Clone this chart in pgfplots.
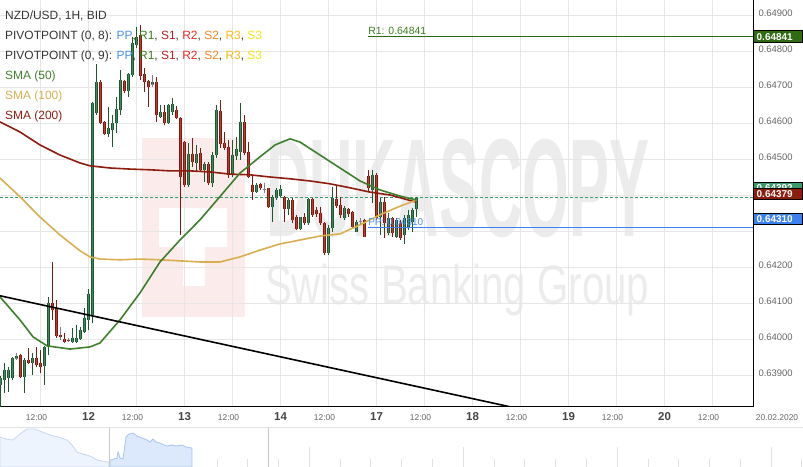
\documentclass[border=0pt]{standalone}
\usepackage{fontspec}
\setmainfont{Liberation Sans}
\usepackage{pgfplots}
\pgfplotsset{compat=1.18}
\usepackage{pgfplotstable}

\definecolor{gridc}{HTML}{E6E6E6}
\definecolor{lblgray}{HTML}{666666}
\definecolor{daygray}{HTML}{444444}
\definecolor{txt}{HTML}{333333}
\definecolor{upfill}{HTML}{3C8A5C}
\definecolor{upline}{HTML}{1E5631}
\definecolor{dnfill}{HTML}{C0392B}
\definecolor{dnline}{HTML}{7B1A12}
\definecolor{sma50}{HTML}{3E7F2D}
\definecolor{sma100}{HTML}{D8AE4E}
\definecolor{sma200}{HTML}{8C1D0E}
\definecolor{cPP}{HTML}{4A8FF0}
\definecolor{cR1}{HTML}{3C7D1E}
\definecolor{cS1}{HTML}{B5201E}
\definecolor{cR2}{HTML}{EE2A24}
\definecolor{cS2}{HTML}{F6851F}
\definecolor{cR3}{HTML}{F5B90F}
\definecolor{cS3}{HTML}{F0E414}
\definecolor{r1line}{HTML}{2F6B12}
\definecolor{ppline}{HTML}{3B82F0}
\definecolor{bidline}{HTML}{3C9A6A}
\definecolor{wmgray}{HTML}{ECECEC}
\definecolor{wmred}{HTML}{FBEBEB}
\definecolor{navfillA}{HTML}{EEF4FD}
\definecolor{navlineA}{HTML}{C4D8F5}
\definecolor{navfillB}{HTML}{DCE8FB}
\definecolor{navlineB}{HTML}{A8C4F0}
\definecolor{navtick}{HTML}{E2E2E2}
\definecolor{navsep}{HTML}{C8C8C8}

\newcommand{\hl}{\hspace*{-8bp}{\fontsize{8.5}{10}\selectfont\color{lblgray}12:00}}
\newcommand{\dl}[1]{{\fontsize{11.5}{13}\selectfont\bfseries\color{daygray}#1}}

% hourly candles, x = hours from 11 Feb 00:00 (weekend skipped)
\pgfplotstableread{
x O H L C
2 0.63872 0.63897 0.63803 0.63892
3 0.63886 0.63933 0.63850 0.63914
4 0.63892 0.63922 0.63853 0.63914
5 0.63892 0.63950 0.63886 0.63947
6 0.63947 0.63961 0.63942 0.63953
7 0.63956 0.63958 0.63892 0.63895
8 0.63895 0.63947 0.63850 0.63942
9 0.63942 0.63975 0.63931 0.63933
10 0.63933 0.63961 0.63900 0.63947
11 0.63947 0.63978 0.63922 0.63928
12 0.63933 0.63970 0.63906 0.63922
13 0.63925 0.63981 0.63872 0.63978
14 0.63978 0.64117 0.63956 0.64100
15 0.64100 0.64214 0.64053 0.64081
16 0.64086 0.64108 0.64003 0.64008
17 0.64011 0.64033 0.63997 0.64006
18 0.64000 0.64017 0.63989 0.63992
19 0.63997 0.64003 0.63992 0.63995
20 0.63992 0.64031 0.63989 0.64003
21 0.63992 0.64039 0.63989 0.64003
22 0.64000 0.64033 0.63997 0.64025
23 0.64020 0.64086 0.64017 0.64058
24 0.64053 0.64139 0.64025 0.64125
25 0.64067 0.64658 0.64045 0.64656
26 0.64628 0.64764 0.64622 0.64714
27 0.64714 0.64720 0.64597 0.64600
28 0.64603 0.64606 0.64567 0.64570
29 0.64570 0.64645 0.64561 0.64586
30 0.64581 0.64622 0.64533 0.64600
31 0.64600 0.64672 0.64572 0.64639
32 0.64636 0.64747 0.64622 0.64720
33 0.64717 0.64720 0.64683 0.64689
34 0.64689 0.64739 0.64672 0.64736
35 0.64733 0.64839 0.64728 0.64822
36 0.64817 0.64867 0.64808 0.64839
37 0.64844 0.64872 0.64720 0.64731
38 0.64736 0.64753 0.64686 0.64714
39 0.64717 0.64720 0.64645 0.64700
40 0.64708 0.64733 0.64700 0.64714
41 0.64714 0.64728 0.64603 0.64622
42 0.64617 0.64650 0.64614 0.64631
43 0.64631 0.64650 0.64595 0.64600
44 0.64600 0.64653 0.64597 0.64650
45 0.64631 0.64670 0.64622 0.64653
46 0.64636 0.64647 0.64611 0.64614
47 0.64614 0.64617 0.64289 0.64450
48 0.64547 0.64550 0.64422 0.64428
49 0.64428 0.64545 0.64422 0.64514
50 0.64514 0.64558 0.64478 0.64492
51 0.64489 0.64539 0.64464 0.64514
52 0.64517 0.64531 0.64464 0.64470
53 0.64470 0.64492 0.64436 0.64486
54 0.64486 0.64492 0.64428 0.64433
55 0.64433 0.64520 0.64422 0.64511
56 0.64511 0.64650 0.64503 0.64636
57 0.64633 0.64664 0.64531 0.64542
58 0.64545 0.64575 0.64525 0.64531
59 0.64533 0.64553 0.64447 0.64456
60 0.64456 0.64553 0.64450 0.64511
61 0.64508 0.64561 0.64497 0.64528
62 0.64520 0.64656 0.64497 0.64603
63 0.64603 0.64622 0.64511 0.64517
64 0.64520 0.64547 0.64447 0.64450
65 0.64428 0.64456 0.64386 0.64408
66 0.64408 0.64433 0.64406 0.64428
67 0.64431 0.64433 0.64414 0.64420
68 0.64417 0.64433 0.64406 0.64417
69 0.64420 0.64420 0.64364 0.64367
70 0.64367 0.64400 0.64325 0.64395
71 0.64392 0.64420 0.64386 0.64414
72 0.64397 0.64428 0.64395 0.64417
73 0.64395 0.64397 0.64325 0.64361
74 0.64361 0.64392 0.64345 0.64386
75 0.64386 0.64392 0.64322 0.64331
76 0.64339 0.64345 0.64303 0.64306
77 0.64306 0.64339 0.64303 0.64339
78 0.64339 0.64350 0.64317 0.64322
79 0.64322 0.64392 0.64317 0.64389
80 0.64389 0.64392 0.64339 0.64345
81 0.64358 0.64367 0.64339 0.64347
82 0.64350 0.64367 0.64317 0.64322
83 0.64322 0.64325 0.64233 0.64239
84 0.64239 0.64317 0.64233 0.64308
85 0.64308 0.64422 0.64297 0.64392
86 0.64389 0.64428 0.64364 0.64370
87 0.64372 0.64395 0.64336 0.64345
88 0.64336 0.64370 0.64331 0.64364
89 0.64361 0.64364 0.64339 0.64347
90 0.64353 0.64356 0.64308 0.64311
91 0.64297 0.64331 0.64297 0.64325
92 0.64328 0.64336 0.64320 0.64328
93 0.64331 0.64333 0.64283 0.64283
94 0.64453 0.64470 0.64408 0.64420
95 0.64414 0.64470 0.64378 0.64456
96 0.64456 0.64461 0.64331 0.64336
97 0.64339 0.64392 0.64289 0.64381
98 0.64381 0.64395 0.64281 0.64322
99 0.64295 0.64350 0.64289 0.64336
100 0.64336 0.64339 0.64283 0.64295
101 0.64283 0.64336 0.64281 0.64331
102 0.64322 0.64331 0.64275 0.64281
103 0.64289 0.64345 0.64264 0.64336
104 0.64308 0.64358 0.64303 0.64345
105 0.64325 0.64364 0.64297 0.64358
106 0.64361 0.64395 0.64339 0.64392
}\candles

\pgfplotsset{
  candle/.style={draw=none, mark=none, forget plot,
    error bars/y explicit, error bars/error mark=none},
}

\begin{document}
\begin{tikzpicture}[x=1bp,y=1bp]
\path[use as bounding box] (0,0) rectangle (803,467);

% watermark
\fill[wmred] (142,150) rectangle (245,329);
\fill[white] (159,220) rectangle (227,259);
\fill[white] (183,181) rectangle (205,220);
\node[anchor=base west, inner sep=0, text=wmgray, xscale=0.43,
  font=\bfseries\fontsize{140}{140}\selectfont] at (266,230) {DUKASCOPY};
\node[anchor=base west, inner sep=0, text=wmgray, xscale=0.72,
  font=\fontsize{56}{56}\selectfont] at (265,162) {Swiss Banking Group};

\begin{axis}[
  at={(0bp,60bp)}, anchor=south west,
  width=753bp, height=407bp, scale only axis,
  xmin=1.875, xmax=190.125,
  ymin=0.638111, ymax=0.649417,
  axis x line*=bottom, axis y line*=right,
  axis line style={black, line width=1bp},
  xtick={12,24,36,48,60,72,84,96,108,120,132,144,156,168,180},
  xticklabels={\hl,\dl{12},\hl,\dl{13},\hl,\dl{14},\hl,\dl{17},\hl,\dl{18},\hl,\dl{19},\hl,\dl{20},\hl},
  xticklabel style={anchor=base, yshift=-13.5bp},
  ytick={0.639,0.640,0.641,0.642,0.643,0.644,0.645,0.646,0.647,0.648,0.649},
  yticklabels={0.63900,0.64000,0.64100,0.64200,,,0.64500,0.64600,0.64700,0.64800,0.64900},
  yticklabel style={xshift=2bp, yshift=1.5bp, text=lblgray, font=\fontsize{9.5}{11}\selectfont},
  scaled y ticks=false,
  grid=major, grid style={gridc, line width=0.8bp},
  major tick length=0pt,
  clip mode=individual,
]
% current bid
\addplot[bidline, line width=0.8bp, dash pattern=on 3bp off 2bp] coordinates {(1.875,0.64392) (190.125,0.64392)};

% wicks
\addplot[candle, error bars/.cd, y dir=both, error bar style={draw=upline, line width=0.8bp}]
  table[x=x, y expr={\thisrow{C}>\thisrow{O} ? \thisrow{O} : nan},
        y error plus expr=\thisrow{H}-\thisrow{O}, y error minus expr=\thisrow{O}-\thisrow{L}] {\candles};
\addplot[candle, error bars/.cd, y dir=both, error bar style={draw=dnline, line width=0.8bp}]
  table[x=x, y expr={\thisrow{C}<\thisrow{O} ? \thisrow{O} : nan},
        y error plus expr=\thisrow{H}-\thisrow{O}, y error minus expr=\thisrow{O}-\thisrow{L}] {\candles};
\addplot[candle, error bars/.cd, y dir=both, error bar style={draw=gray, line width=0.8bp}]
  table[x=x, y expr={\thisrow{C}==\thisrow{O} ? \thisrow{O} : nan},
        y error plus expr=\thisrow{H}-\thisrow{O}, y error minus expr=\thisrow{O}-\thisrow{L}] {\candles};
\addplot[only marks, mark=-, mark size=1.6bp, color=gray, forget plot]
  table[x=x, y expr={\thisrow{C}==\thisrow{O} ? \thisrow{O} : nan}] {\candles};

% bodies: outline then fill
\addplot[candle, error bars/.cd, y dir=plus, error bar style={draw=upline, line width=3.2bp}]
  table[x=x, y expr={\thisrow{C}>\thisrow{O} ? \thisrow{O} : nan},
        y error plus expr=\thisrow{C}-\thisrow{O}] {\candles};
\addplot[candle, error bars/.cd, y dir=plus, error bar style={draw=upfill, line width=1.7bp}]
  table[x=x, y expr={\thisrow{C}>\thisrow{O} ? \thisrow{O} : nan},
        y error plus expr=\thisrow{C}-\thisrow{O}] {\candles};
\addplot[candle, error bars/.cd, y dir=minus, error bar style={draw=dnline, line width=3.2bp}]
  table[x=x, y expr={\thisrow{C}<\thisrow{O} ? \thisrow{O} : nan},
        y error minus expr=\thisrow{O}-\thisrow{C}] {\candles};
\addplot[candle, error bars/.cd, y dir=minus, error bar style={draw=dnfill, line width=1.7bp}]
  table[x=x, y expr={\thisrow{C}<\thisrow{O} ? \thisrow{O} : nan},
        y error minus expr=\thisrow{O}-\thisrow{C}] {\candles};

% SMA 200
\addplot[sma200, line width=1.6bp] coordinates {
(1.875,0.64603) (6.875,0.64575) (11.875,0.64539) (16.875,0.64511) (21.875,0.64489)
(24.375,0.64481) (29.375,0.64475) (34.375,0.64472) (39.375,0.64470) (44.375,0.64467)
(49.375,0.64467) (54.375,0.64464) (59.375,0.64458) (64.375,0.64456) (69.375,0.64450)
(74.375,0.64445) (79.375,0.64439) (84.375,0.64431) (89.375,0.64420) (94.375,0.64408)
(99.375,0.64400) (106,0.64380)};
% SMA 100
\addplot[sma100, line width=1.6bp] coordinates {
(1.875,0.64447) (6.875,0.64395) (11.875,0.64339) (16.875,0.64289) (21.875,0.64245)
(24.375,0.64228) (26.875,0.64222) (31.875,0.64220) (36.875,0.64222) (41.875,0.64220)
(46.875,0.64217) (51.875,0.64214) (56.875,0.64214) (61.875,0.64228) (66.875,0.64247)
(71.875,0.64264) (76.875,0.64275) (81.875,0.64286) (86.875,0.64292) (91.875,0.64317)
(96.875,0.64345) (101.875,0.64369) (106,0.64386)};
% SMA 50
\addplot[sma50, line width=1.6bp] coordinates {
(1.875,0.64117) (6.875,0.64053) (10.125,0.64006) (13.625,0.63981) (19.375,0.63972)
(24.375,0.63978) (26.875,0.63989) (31.875,0.64053) (36.875,0.64128) (41.875,0.64214)
(46.875,0.64275) (51.875,0.64331) (56.125,0.64386) (61.875,0.64461) (66.875,0.64506)
(70.625,0.64539) (74.375,0.64556) (76.875,0.64547) (81.875,0.64511) (86.875,0.64475)
(91.875,0.64439) (96.875,0.64414) (101.875,0.64397) (106,0.64386)};

% trend line
\addplot[black, line width=1.6bp] coordinates {(0,0.641246) (140,0.63786)};

% pivot levels
\addplot[r1line, line width=1bp] coordinates {(93.75,0.64841) (190.125,0.64841)};
\addplot[ppline, line width=1.2bp] coordinates {(93.75,0.64310) (190.125,0.64310)};
\node[anchor=base west, inner sep=0, text=cR1, font=\fontsize{10.5}{12}\selectfont]
  at (axis cs:93.9,0.64846) {R1: 0.64841};
\node[anchor=base west, inner sep=0, text=cPP, font=\fontsize{10}{12}\selectfont]
  at (axis cs:93.9,0.64316) {PP: 0.64310};
\end{axis}

% navigator
\begin{axis}[
  at={(0bp,0bp)}, anchor=south west,
  width=803bp, height=39bp, scale only axis,
  xmin=0, xmax=803, ymin=0, ymax=39,
  axis x line*=bottom, axis y line=none,
  axis line style={draw=none},
  xtick={155,309,463,617,771},
  minor xtick={31,62,93,124,186,217,247,278,340,370,401,432,494,524,555,586,648,678,709,740,801},
  xticklabels={},
  tick align=inside, major tick length=20bp, minor tick length=8bp,
  tick style={navtick, line width=1bp},
]
\addplot[fill=navfillA, draw=navlineA, line width=0.8bp] coordinates {
(0,30) (6,28) (13,27) (20,33) (27,38) (35,38) (42,35) (50,32) (58,30) (67,27)
(72,22) (77,15) (82,13) (87,12) (92,10) (97,7) (102,6) (107,5) (109,5)} \closedcycle;
\addplot[fill=navfillB, draw=navlineB, line width=0.8bp] coordinates {
(110,7) (114,8) (117,9) (118,15) (120,9) (123,8) (126,30) (129,33) (133,34) (137,31)
(142,29) (147,27) (150,25) (153,28) (156,25) (160,24) (164,22) (167,21) (172,22)
(176,21) (182,22) (186,20) (192,19)} \closedcycle;
\draw[navsep, line width=1.5bp] (axis cs:109.5,0) -- (axis cs:109.5,39);
\draw[navsep, line width=1.5bp] (axis cs:268.5,0) -- (axis cs:268.5,39);
\end{axis}
\draw[navtick, line width=0.8bp] (0,39.5) -- (803,39.5);

% legend block
\begin{scope}[every node/.style={anchor=base west, inner sep=0, font=\fontsize{12}{14}\selectfont, text=txt}]
\node at (5,447) {NZD/USD, 1H, BID};
\node at (5,427.5) {PIVOTPOINT (0, 8): \textcolor{cPP}{PP}, \textcolor{cR1}{R1}, \textcolor{cS1}{S1}, \textcolor{cR2}{R2}, \textcolor{cS2}{S2}, \textcolor{cR3}{R3}, \textcolor{cS3}{S3}};
\node at (5,407.7) {PIVOTPOINT (0, 9): \textcolor{cPP}{PP}, \textcolor{cR1}{R1}, \textcolor{cS1}{S1}, \textcolor{cR2}{R2}, \textcolor{cS2}{S2}, \textcolor{cR3}{R3}, \textcolor{cS3}{S3}};
\node[text=sma50] at (5,387.7) {SMA (50)};
\node[text=sma100] at (5,367.7) {SMA (100)};
\node[text=sma200] at (5,347.7) {SMA (200)};
\end{scope}

% price boxes on the right
\begin{scope}[every node/.style={anchor=west, inner sep=0, text=white, font=\bfseries\fontsize{10}{12}\selectfont}]
\filldraw[fill=r1line, draw=black, line width=0.6bp] (753,424.3) rectangle (802.5,436.3);
\node at (756.5,430.3) {0.64841};
\filldraw[fill=bidline, draw=black, line width=0.6bp] (753,272.5) rectangle (802.5,284.5);
\node at (756.5,278.5) {0.64392};
\filldraw[fill=sma200, draw=black, line width=0.6bp] (753,267.7) rectangle (802.5,279);
\node at (756.5,273.3) {0.64379};
\filldraw[fill=ppline, draw=black, line width=0.6bp] (753,242.3) rectangle (802.5,253.7);
\node at (756.5,248) {0.64310};
\end{scope}
\node[anchor=base, inner sep=0, text=lblgray, font=\fontsize{8.5}{10}\selectfont] at (777,46.5) {20.02.2020};
\end{tikzpicture}
\end{document}
